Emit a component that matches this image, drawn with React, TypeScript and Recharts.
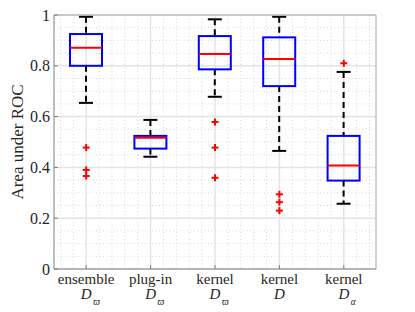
import {
  ComposedChart,
  Bar,
  Scatter,
  XAxis,
  YAxis,
  CartesianGrid,
  ReferenceLine,
} from "recharts";

const groups = ["ens-w", "plug-w", "kern-w", "kern-d", "kern-a"];
const topLabels = ["ensemble", "plug-in", "kernel", "kernel", "kernel"];
const subLabels = ["ϖ", "ϖ", "ϖ", "", "α"];

const whiskerLow = [0.654, 0.442, 0.678, 0.465, 0.257];
const q1 = [0.8, 0.474, 0.786, 0.72, 0.348];
const median = [0.871, 0.517, 0.846, 0.827, 0.407];
const q3 = [0.925, 0.524, 0.917, 0.912, 0.524];
const whiskerHigh = [0.993, 0.587, 0.983, 0.993, 0.776];
const outliers = [
  [0.478, 0.39, 0.366],
  [],
  [0.579, 0.478, 0.359],
  [0.294, 0.263, 0.23],
  [0.81],
];

const yTicks = [0, 0.2, 0.4, 0.6, 0.8, 1];
const yMinorTicks = [
  0.05, 0.1, 0.15, 0.25, 0.3, 0.35, 0.45, 0.5, 0.55, 0.65, 0.7, 0.75, 0.85,
  0.9, 0.95,
];
const xTicks = [1, 2, 3, 4, 5];
const xMinorTicks = [
  0.6, 0.8, 1.2, 1.4, 1.6, 1.8, 2.2, 2.4, 2.6, 2.8, 3.2, 3.4, 3.6, 3.8, 4.2,
  4.4, 4.6, 4.8, 5.2, 5.4,
];

const boxData = groups.map((g, i) => ({
  group: g,
  lo: whiskerLow[i],
  q1: q1[i],
  med: median[i],
  q3: q3[i],
  hi: whiskerHigh[i],
}));

const outlierData = groups.flatMap((g, i) =>
  outliers[i].map((v) => ({ group: g, v }))
);

const FONT = '"Liberation Serif", "Times New Roman", serif';
const TEXT = "#262626";
const AXIS = "#808080";
const FRAME = "#a8a8a8";

// position along the category axis, 1..n at band centres
const xPos = (offset: any, t: number) =>
  offset.left + ((t - 0.5) / groups.length) * offset.width;
const yPos = (offset: any, v: number) => offset.top + (1 - v) * offset.height;

function BoxShape(props: any) {
  const { x, y, width, height, payload } = props;
  const top = Math.min(y, y + height);
  const h = Math.abs(height);
  const ppu = h / (payload.hi - payload.lo);
  const yOf = (v: number) => top + (payload.hi - v) * ppu;
  const cx = x + width / 2;
  const cap = 7;
  return (
    <g>
      <line x1={cx} x2={cx} y1={yOf(payload.hi)} y2={yOf(payload.q3)} stroke="#000" strokeWidth={2} strokeDasharray="6 4" />
      <line x1={cx} x2={cx} y1={yOf(payload.q1)} y2={yOf(payload.lo)} stroke="#000" strokeWidth={2} strokeDasharray="6 4" />
      <line x1={cx - cap} x2={cx + cap} y1={yOf(payload.hi)} y2={yOf(payload.hi)} stroke="#000" strokeWidth={2} />
      <line x1={cx - cap} x2={cx + cap} y1={yOf(payload.lo)} y2={yOf(payload.lo)} stroke="#000" strokeWidth={2} />
      <rect x={x} y={yOf(payload.q3)} width={width} height={yOf(payload.q1) - yOf(payload.q3)} fill="none" stroke="#0000ff" strokeWidth={2} />
      <line x1={x} x2={x + width} y1={yOf(payload.med)} y2={yOf(payload.med)} stroke="#ff0000" strokeWidth={2} />
    </g>
  );
}

function PlusMark(props: any) {
  const { cx, cy } = props;
  return (
    <g stroke="#ff0000" strokeWidth={2}>
      <line x1={cx - 3.5} x2={cx + 3.5} y1={cy} y2={cy} />
      <line x1={cx} x2={cx} y1={cy - 3.5} y2={cy + 3.5} />
    </g>
  );
}

function CategoryTick(props: any) {
  const { x, y, payload } = props;
  const i = groups.indexOf(payload.value);
  if (i < 0) return null;
  return (
    <g fontFamily={FONT} fill={TEXT}>
      <text x={x} y={y + 14.5} textAnchor="middle" fontSize={15}>
        {topLabels[i]}
      </text>
      <text x={x} y={y + 30} textAnchor="middle" fontSize={15} fontStyle="italic">
        D
      </text>
      {subLabels[i] && (
        <text x={x + 7} y={y + 35.5} textAnchor="start" fontSize={9.5} fontStyle="italic">
          {subLabels[i]}
        </text>
      )}
    </g>
  );
}

function YLabel(props: any) {
  const vb = props.viewBox;
  const cx = vb.x + 17;
  const cy = vb.y + vb.height / 2;
  return (
    <text
      x={cx}
      y={cy}
      transform={`rotate(-90 ${cx} ${cy})`}
      textAnchor="middle"
      dominantBaseline="central"
      fontFamily={FONT}
      fontSize={17}
      fill={TEXT}
    >
      Area under ROC
    </text>
  );
}

export default function App() {
  return (
    <div style={{ position: "absolute", left: 0, top: 0, background: "#fff" }}>
      <ComposedChart
        width={415}
        height={312}
        data={boxData}
        margin={{ top: 15, right: 39, left: 0, bottom: 0 }}
      >
        <CartesianGrid
          stroke="#d6d6d6"
          strokeDasharray="1 2.5"
          verticalCoordinatesGenerator={({ offset }: any) =>
            xMinorTicks.map((t) => xPos(offset, t))
          }
          horizontalCoordinatesGenerator={({ offset }: any) =>
            yMinorTicks.map((v) => yPos(offset, v))
          }
        />
        <CartesianGrid
          stroke="#e4e4e4"
          strokeWidth={1.5}
          verticalCoordinatesGenerator={({ offset }: any) =>
            xTicks.map((t) => xPos(offset, t))
          }
          horizontalCoordinatesGenerator={({ offset }: any) =>
            yTicks.map((v) => yPos(offset, v))
          }
        />
        <XAxis
          dataKey="group"
          allowDuplicatedCategory={false}
          height={43}
          tick={<CategoryTick />}
          tickSize={-4}
          tickMargin={4}
          interval={0}
          axisLine={{ stroke: AXIS }}
          tickLine={{ stroke: AXIS }}
        />
        <YAxis
          type="number"
          domain={[0, 1]}
          ticks={yTicks}
          width={54}
          tickSize={-4}
          tickMargin={8}
          axisLine={{ stroke: AXIS }}
          tickLine={{ stroke: AXIS }}
          tick={{ fontFamily: FONT, fontSize: 16, fill: TEXT }}
          label={{ content: <YLabel /> }}
        />
        <ReferenceLine y={1} stroke={FRAME} ifOverflow="visible" />
        <ReferenceLine x="kern-a" position="end" stroke={FRAME} ifOverflow="visible" />
        <Bar
          dataKey={(d: any) => [d.lo, d.hi]}
          barSize={32}
          shape={<BoxShape />}
          isAnimationActive={false}
        />
        <Scatter
          data={outlierData}
          dataKey="v"
          shape={<PlusMark />}
          isAnimationActive={false}
        />
      </ComposedChart>
    </div>
  );
}
